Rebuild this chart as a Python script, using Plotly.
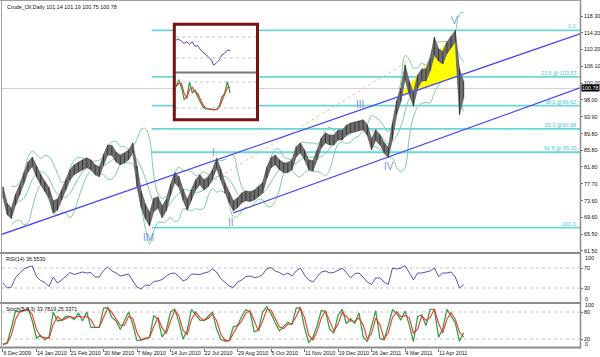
import plotly.graph_objects as go
import pandas as pd

# ---------------- data ----------------
chart_title = "Crude_Oil,Daily 101.14 101.19 100.75 100.78"
bar_step = 4  # each sample below summarises 4 daily bars

highs = [77.0, 73.0, 71.8, 75.2, 77.5, 80.4, 83.0, 84.2, 82.0, 80.0,
         78.3, 76.8, 73.6, 74.0, 76.3, 78.8, 81.1, 82.3, 83.0, 83.5,
         84.0, 83.5, 82.3, 81.8, 84.8, 87.1, 87.0, 85.4, 84.7, 85.2,
         85.9, 87.6, 82.0, 76.0, 72.8, 70.8, 74.2, 74.6, 72.4, 74.0,
         77.6, 80.4, 79.5, 76.4, 74.0, 76.3, 78.7, 79.9, 78.7, 79.4,
         81.1, 83.9, 81.3, 78.0, 75.6, 73.6, 74.3, 75.5, 76.0, 75.8,
         76.2, 77.0, 78.0, 81.8, 84.0, 84.7, 83.5, 82.8, 82.8, 83.5,
         86.7, 87.6, 85.9, 83.5, 83.3, 85.9, 88.8, 90.0, 89.5, 89.5,
         90.7, 90.7, 91.9, 92.4, 92.7, 92.9, 93.2, 92.0, 88.6, 90.8,
         89.6, 87.7, 86.5, 92.5, 97.8, 100.8, 106.5, 102.6, 99.8, 104.0,
         105.5, 105.5, 108.0, 113.2, 110.4, 109.7, 112.0, 113.4, 114.8, 105.5,
         102.5]
lows = [74.4, 70.2, 69.3, 72.6, 75.0, 77.9, 80.6, 81.9, 79.3, 77.5,
        75.8, 74.3, 70.6, 71.3, 73.8, 76.2, 78.6, 79.9, 80.6, 81.1,
        81.6, 81.1, 79.9, 79.4, 82.2, 84.7, 84.6, 83.0, 82.3, 82.8,
        83.5, 85.3, 77.0, 72.0, 69.2, 67.5, 71.0, 71.8, 69.5, 71.2,
        74.9, 77.9, 76.9, 73.7, 71.3, 73.7, 76.2, 77.5, 76.2, 77.0,
        78.7, 81.4, 78.6, 75.4, 73.1, 71.2, 71.9, 73.1, 73.6, 73.4,
        73.8, 74.6, 75.5, 79.0, 81.6, 82.3, 81.1, 80.4, 80.4, 81.1,
        84.2, 85.2, 83.5, 81.1, 80.8, 83.5, 86.4, 87.6, 87.1, 87.1,
        88.3, 88.3, 89.5, 90.0, 90.3, 90.5, 90.8, 89.4, 85.9, 88.2,
        87.1, 85.2, 84.0, 88.5, 94.4, 97.6, 103.0, 99.3, 96.5, 100.8,
        102.6, 102.6, 105.0, 108.8, 107.4, 106.7, 109.2, 110.6, 112.0, 94.4,
        98.5]
closes = [75.8, 71.4, 70.4, 73.8, 76.2, 79.1, 81.8, 83.0, 80.6, 78.7,
          77.0, 75.5, 72.1, 72.6, 75.0, 77.5, 79.9, 81.1, 81.8, 82.3,
          82.8, 82.3, 81.1, 80.6, 83.5, 85.9, 85.9, 84.2, 83.5, 84.0,
          84.7, 86.6, 79.1, 73.8, 70.9, 69.0, 72.6, 73.1, 70.9, 72.6,
          76.2, 79.1, 78.2, 75.0, 72.6, 75.0, 77.5, 78.7, 77.5, 78.2,
          79.9, 82.8, 79.9, 76.7, 74.3, 72.4, 73.1, 74.3, 74.8, 74.6,
          75.0, 75.8, 76.7, 80.4, 82.8, 83.5, 82.3, 81.6, 81.6, 82.3,
          85.4, 86.4, 84.7, 82.3, 82.0, 84.7, 87.6, 88.8, 88.3, 88.3,
          89.5, 89.5, 90.7, 91.2, 91.5, 91.7, 92.0, 90.7, 87.1, 89.5,
          88.3, 86.4, 85.2, 90.7, 96.1, 99.2, 104.8, 100.9, 98.0, 102.4,
          104.0, 104.0, 106.5, 110.6, 108.9, 108.2, 110.6, 112.0, 113.5, 99.2,
          100.78]
rsi14 = [40, 30, 32, 51, 60, 68, 72, 74, 53, 45,
         41, 33, 52, 40, 46, 54, 61, 57, 60, 62,
         60, 61, 52, 52, 65, 72, 64, 60, 54, 56,
         58, 44, 32, 28, 36, 35, 43, 44, 47, 54,
         59, 60, 53, 44, 48, 58, 58, 57, 60, 62,
         68, 62, 49, 42, 34, 31, 42, 46, 53, 54,
         51, 52, 57, 69, 71, 64, 61, 56, 60, 54,
         64, 70, 56, 46, 42, 52, 62, 64, 60, 61,
         66, 70, 61, 50, 59, 60, 52, 42, 37, 50,
         50, 42, 37, 70, 68, 70, 75, 60, 46, 60,
         60, 62, 64, 70, 53, 60, 60, 62, 52, 30,
         36.553]
stoch_k = [8, 12, 45, 82, 80, 85, 88, 60, 22, 28,
           18, 25, 80, 60, 62, 70, 70, 63, 78, 60,
           80, 46, 46, 46, 88, 90, 68, 60, 41, 60,
           80, 52, 16, 18, 22, 24, 72, 64, 24, 40,
           80, 86, 58, 20, 40, 86, 74, 62, 61, 70,
           80, 42, 20, 15, 17, 47, 50, 70, 85, 80,
           36, 40, 80, 92, 76, 56, 38, 48, 57, 52,
           88, 90, 45, 12, 24, 50, 83, 82, 42, 33,
           72, 86, 54, 65, 55, 78, 25, 14, 50, 83,
           21, 18, 50, 85, 77, 62, 82, 52, 14, 70,
           73, 50, 86, 86, 24, 42, 86, 72, 56, 15,
           33.7819]

date_labels = ["6 Dec 2009", "14 Jan 2010", "21 Feb 2010", "30 Mar 2010", "7 May 2010",
               "14 Jun 2010", "22 Jul 2010", "29 Aug 2010", "5 Oct 2010", "11 Nov 2010",
               "19 Dec 2010", "26 Jan 2011", "4 Mar 2011", "11 Apr 2011"]
date_label_bars = [0, 32, 64, 96, 128, 160, 192, 224, 256, 288, 320, 352, 384, 416]

price_ticks = [118.30, 114.20, 110.20, 106.10, 102.00, 98.00, 93.90, 89.80,
               85.80, 81.80, 77.70, 73.60, 69.60, 65.50, 61.50]
last_price = 100.78

fib_high = 114.82
fib_low = 67.13
fib_ratios = [0.0, 23.6, 38.2, 50.0, 61.8, 100.0]
fib_texts = ["0.0", "23.6 @ 103.57", "38.2 @96.62", "50.0 @90.98", "61.8 @ 85.35", "100.0"]
fib_start_bar = 142

upper_channel_bars = [-1, 551]
upper_channel_prices = [65.5, 114.0]
lower_channel_bars = [220, 551]
lower_channel_prices = [70.7, 100.9]

wedge_bars = [379, 432, 435.5]
wedge_prices = [99.0, 114.2, 103.8]

guide_bars = [202, 389]
guide_prices = [78.7, 107.7]

wave_names = ["IM", "I", "II", "III", "IV", "V"]
wave_bars = [138.5, 200.6, 217.8, 341, 368.7, 431.7]
wave_prices = [64.6, 85.4, 68.3, 97.0, 81.8, 117.3]

inset_rsi = [64, 66, 62, 58, 61, 56, 61, 52, 54, 46, 41, 37, 32, 27, 16, 21, 26, 36, 39, 45, 44]
inset_stoch = [69, 85, 68, 40, 45, 80, 55, 61, 46, 32, 22, 18, 18, 17, 16, 17, 25, 46, 53, 81, 55]

# ---------------- derived ----------------
bars = [i * bar_step for i in range(len(closes))]
cs = pd.Series(closes)
bb_mid = cs.rolling(5, min_periods=3).mean()
bb_std = cs.rolling(5, min_periods=3).std(ddof=0)
bb_up = bb_mid + 2 * bb_std
bb_lo = bb_mid - 2 * bb_std
stoch_d = pd.Series(stoch_k).rolling(2, min_periods=1).mean()
inset_idx = list(range(len(inset_rsi)))
inset_d = pd.Series(inset_stoch).rolling(2, min_periods=1).mean()

X_RANGE = [-0.95, 551.1]
W, H = 600, 357
def px(v):
    return v / W
def py(v):
    return 1 - v / H

FONT = "Liberation Sans"
FS = 5.4
fig = go.Figure()

# fib lines
fx, fy = [], []
for r in fib_ratios:
    p = fib_high - (fib_high - fib_low) * r / 100.0
    fx += [fib_start_bar, X_RANGE[1], None]
    fy += [p, p, None]
fig.add_trace(go.Scatter(x=fx, y=fy, mode="lines", line=dict(color="#6AD6D8", width=1.8),
                         xaxis="x", yaxis="y", hoverinfo="skip"))

# bollinger bands
for s in (bb_up, bb_mid, bb_lo):
    fig.add_trace(go.Scatter(x=bars, y=s, mode="lines", line=dict(color="#7CCB9E", width=1, shape="spline"),
                             xaxis="x", yaxis="y", hoverinfo="skip"))

# dotted guide
fig.add_trace(go.Scatter(x=guide_bars, y=guide_prices, mode="lines",
                         line=dict(color="#F4B9A4", width=1, dash="dot"), xaxis="x", yaxis="y"))

# yellow wedge
fig.add_trace(go.Scatter(x=wedge_bars + [wedge_bars[0]], y=wedge_prices + [wedge_prices[0]],
                         mode="lines", fill="toself", fillcolor="#FFFF00",
                         line=dict(color="#E8E800", width=0.5), xaxis="x", yaxis="y"))

# price ribbon + bars
fig.add_trace(go.Scatter(x=bars, y=lows, mode="lines", line=dict(width=0.6, color="#505050"),
                         xaxis="x", yaxis="y", hoverinfo="skip"))
fig.add_trace(go.Scatter(x=bars, y=highs, mode="lines", line=dict(width=0.6, color="#505050"),
                         fill="tonexty", fillcolor="#6E6E6E", xaxis="x", yaxis="y"))
zx, zy = [], []
for b, h, l in zip(bars, highs, lows):
    zx += [b, b, None]
    zy += [l, h, None]
fig.add_trace(go.Scatter(x=zx, y=zy, mode="lines", line=dict(color="#383838", width=1),
                         xaxis="x", yaxis="y"))

# channel lines
fig.add_trace(go.Scatter(x=upper_channel_bars, y=upper_channel_prices, mode="lines",
                         line=dict(color="#4B4BF2", width=1.3), xaxis="x", yaxis="y"))
fig.add_trace(go.Scatter(x=lower_channel_bars, y=lower_channel_prices, mode="lines",
                         line=dict(color="#4B4BF2", width=1.3), xaxis="x", yaxis="y"))

# RSI
fig.add_trace(go.Scatter(x=bars, y=rsi14, mode="lines", line=dict(color="#5252B8", width=1),
                         xaxis="x2", yaxis="y2"))
# Stochastic
fig.add_trace(go.Scatter(x=bars, y=stoch_k, mode="lines", line=dict(color="#3A9E4A", width=1.3),
                         xaxis="x3", yaxis="y3"))
fig.add_trace(go.Scatter(x=bars, y=stoch_d, mode="lines", line=dict(color="#E83A2E", width=1.1),
                         xaxis="x3", yaxis="y3"))

# inset
fig.add_trace(go.Scatter(x=inset_idx, y=inset_rsi, mode="lines", line=dict(color="#4848B0", width=1),
                         xaxis="x4", yaxis="y4"))
fig.add_trace(go.Scatter(x=inset_idx, y=inset_stoch, mode="lines", line=dict(color="#3A9E4A", width=1.3),
                         xaxis="x5", yaxis="y5"))
fig.add_trace(go.Scatter(x=inset_idx, y=inset_d, mode="lines", line=dict(color="#E83A2E", width=1.1),
                         xaxis="x5", yaxis="y5"))

tickfont = dict(family=FONT, size=FS, color="#111")
ax_common = dict(showgrid=False, zeroline=False, showline=False)

fig.update_layout(
    width=W, height=H, autosize=False, showlegend=False,
    margin=dict(l=0, r=0, t=0, b=0),
    paper_bgcolor="white", plot_bgcolor="white",
    xaxis=dict(domain=[px(2), px(580)], range=X_RANGE, showticklabels=False, anchor="y", **ax_common),
    yaxis=dict(domain=[py(253), py(1)], range=[60.97, 121.93], side="right", anchor="x",
               tickvals=price_ticks, ticktext=[f"{v:.2f}" for v in price_ticks],
               ticks="outside", ticklen=2, tickcolor="#777", tickfont=tickfont, **ax_common),
    xaxis2=dict(domain=[px(2), px(580)], range=X_RANGE, matches="x", showticklabels=False, anchor="y2", **ax_common),
    yaxis2=dict(domain=[py(303), py(253)], range=[0, 100], side="right", anchor="x2",
                tickvals=[30, 70], ticks="outside", ticklen=2, tickcolor="#777", tickfont=tickfont, **ax_common),
    xaxis3=dict(domain=[px(2), px(580)], range=X_RANGE, matches="x", anchor="y3",
                tickvals=date_label_bars, ticktext=date_labels, ticklabelposition="outside right",
                tickangle=0, ticks="outside", ticklen=3, tickcolor="#777", tickfont=tickfont, **ax_common),
    yaxis3=dict(domain=[py(348), py(303)], range=[0, 100], side="right", anchor="x3",
                tickvals=[20, 80], ticks="outside", ticklen=2, tickcolor="#777", tickfont=tickfont, **ax_common),
    xaxis4=dict(domain=[px(176), px(256)], range=[0, 29.6], showticklabels=False, anchor="y4", **ax_common),
    yaxis4=dict(domain=[py(71.5), py(25.7)], range=[4.3, 91.5], showticklabels=False, anchor="x4", **ax_common),
    xaxis5=dict(domain=[px(176), px(256)], range=[0, 29.6], showticklabels=False, anchor="y5", **ax_common),
    yaxis5=dict(domain=[py(118), py(73.5)], range=[-3.1, 99.6], showticklabels=False, anchor="x5", **ax_common),
)

shapes = []
shapes.append(dict(type="line", xref="paper", yref="y", x0=px(2), x1=px(580), y0=last_price, y1=last_price,
                   line=dict(color="#CFCFCF", width=1), layer="below"))
for lv in (30, 70):
    shapes.append(dict(type="line", xref="paper", yref="y2", x0=px(2), x1=px(580), y0=lv, y1=lv,
                       line=dict(color="#C4C4C4", width=1, dash="dot"), layer="below"))
for lv in (20, 80):
    shapes.append(dict(type="line", xref="paper", yref="y3", x0=px(2), x1=px(580), y0=lv, y1=lv,
                       line=dict(color="#C4C4C4", width=1, dash="dot"), layer="below"))
for lv in (30, 70):
    shapes.append(dict(type="line", xref="x4 domain", yref="y4", x0=0, x1=1, y0=lv, y1=lv,
                       line=dict(color="#C4C4C4", width=1, dash="dot"), layer="above"))
for lv in (20, 80):
    shapes.append(dict(type="line", xref="x5 domain", yref="y5", x0=0, x1=1, y0=lv, y1=lv,
                       line=dict(color="#C4C4C4", width=1, dash="dot"), layer="above"))
frame = dict(color="#8C8C8C", width=2)
for yy in (253, 303, 347.5):
    shapes.append(dict(type="line", xref="paper", yref="paper", x0=0, x1=px(580.5), y0=py(yy), y1=py(yy), line=frame))
shapes.append(dict(type="line", xref="paper", yref="paper", x0=px(580.5), x1=px(580.5), y0=py(348.5), y1=1,
                   line=dict(color="#8C8C8C", width=1.5)))
shapes.append(dict(type="line", xref="paper", yref="paper", x0=px(1.5), x1=px(1.5), y0=py(348), y1=1,
                   line=dict(color="#A0A0A0", width=1)))
shapes.append(dict(type="line", xref="paper", yref="paper", x0=0, x1=px(581), y0=py(0.5), y1=py(0.5),
                   line=dict(color="#A0A0A0", width=1)))
shapes.append(dict(type="line", xref="paper", yref="paper", x0=px(175.5), x1=px(256.5), y0=py(72.5), y1=py(72.5),
                   line=dict(color="#777777", width=2), layer="above"))
shapes.append(dict(type="rect", xref="paper", yref="paper", x0=px(174.3), x1=px(257.5), y0=py(119.7), y1=py(24.2),
                   line=dict(color="#7A1212", width=3), layer="above"))
fig.update_layout(shapes=shapes)

ann = []
small = dict(family=FONT, size=FS, color="#111")
ann.append(dict(xref="paper", yref="paper", x=px(5), y=py(6.5), text=chart_title, showarrow=False,
                xanchor="left", yanchor="middle", font=small))
ann.append(dict(xref="paper", yref="paper", x=px(4), y=py(258.5), text=f"RSI(14) {rsi14[-1]:.4f}", showarrow=False,
                xanchor="left", yanchor="middle", font=small))
ann.append(dict(xref="paper", yref="paper", x=px(4), y=py(308.5),
                text=f"Stoch(5,3,3) {stoch_k[-1]:.4f} 25.3371", showarrow=False,
                xanchor="left", yanchor="middle", font=small))
for t, yy in (("100", 257.5), ("0", 298.5), ("100", 305.4), ("0", 344)):
    ann.append(dict(xref="paper", yref="paper", x=px(584), y=py(yy), text=t, showarrow=False,
                    xanchor="left", yanchor="middle", font=small, borderpad=0))
ann.append(dict(xref="paper", yref="y", x=px(581), y=last_price, text=f"{last_price:.2f}", showarrow=False,
                xanchor="left", yanchor="middle", bgcolor="#000000", borderpad=0,
                font=dict(family=FONT, size=FS, color="#FFFFFF")))
for r, t in zip(fib_ratios, fib_texts):
    p = fib_high - (fib_high - fib_low) * r / 100.0
    ann.append(dict(xref="paper", yref="y", x=px(578), y=p, text=t, showarrow=False,
                    xanchor="right", yanchor="bottom", yshift=-1,
                    font=dict(family=FONT, size=FS, color="#4CC8CC")))
for n, b, p in zip(wave_names, wave_bars, wave_prices):
    ann.append(dict(xref="x", yref="y", x=b, y=p, text=n, showarrow=False,
                    xanchor="center", yanchor="middle",
                    font=dict(family=FONT, size=10, color="#7F95D8")))
fig.update_layout(annotations=ann)

fig.write_html("out.html", config={"displayModeBar": False},
               post_script="document.body.style.margin='0px';")
